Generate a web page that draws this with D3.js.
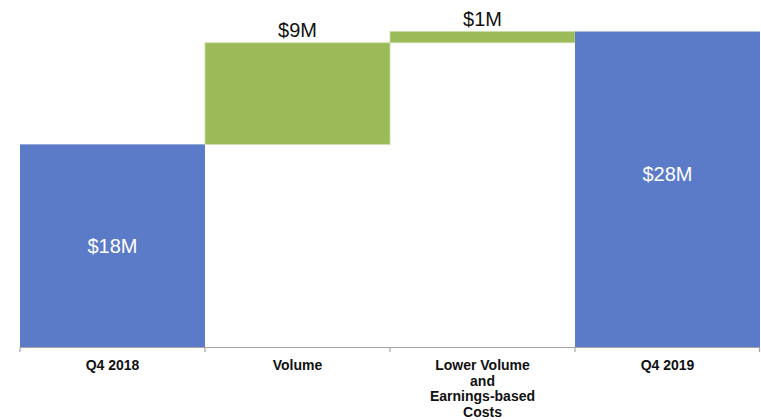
<!DOCTYPE html>
<html>
<head>
<meta charset="utf-8">
<script src="https://cdn.jsdelivr.net/npm/d3@7"></script>
<style>
  html, body { margin: 0; padding: 0; background: #fff; }
  svg { display: block; font-family: "Liberation Sans", Arial, sans-serif; }
</style>
</head>
<body>
<svg id="chart" width="761" height="420"></svg>
<script>
// Waterfall: Q4 2018 -> Q4 2019 bridge (USD millions)
const categories = ["Q4 2018", "Volume", "Lower Volume\nand\nEarnings-based\nCosts", "Q4 2019"];
const kinds      = ["total", "delta", "delta", "total"];
const values     = [18, 9, 1, 28];
const valueLabels = ["$18M", "$9M", "$1M", "$28M"];
// value level (in $M) where the label inside a total bar sits
const insideLabelAt = [9.0, 15.4];

const width = 761, height = 420;
const margin = { left: 20, right: 1, top: 31.5, bottom: 72.5 };

const svg = d3.select("#chart");

// Build start/end of each step
let running = 0;
const steps = categories.map((c, i) => {
  let y0, y1;
  if (kinds[i] === "total") { y0 = 0; y1 = values[i]; running = values[i]; }
  else { y0 = running; y1 = running + values[i]; running = y1; }
  return { cat: c, kind: kinds[i], y0, y1, label: valueLabels[i] };
});

const x = d3.scaleBand()
  .domain(categories)
  .range([margin.left, width - margin.right])
  .padding(0);

const y = d3.scaleLinear()
  .domain([0, d3.max(steps, d => d.y1)])
  .range([height - margin.bottom, margin.top]);

const blue = "#5b7bc8", green = "#9bbb59";

// Bars
svg.append("g").selectAll("rect")
  .data(steps)
  .join("rect")
  .attr("x", d => x(d.cat))
  .attr("width", x.bandwidth())
  .attr("y", d => y(d.y1))
  .attr("height", d => y(d.y0) - y(d.y1))
  .attr("fill", d => d.kind === "total" ? blue : green)
  .attr("stroke", d => d.kind === "total" ? "none" : "#c9dca6")
  .attr("stroke-width", 0.8);

// Value labels: inside totals (white), above deltas (black)
let ti = 0;
svg.append("g").selectAll("text")
  .data(steps)
  .join("text")
  .attr("x", d => x(d.cat) + x.bandwidth() / 2)
  .attr("y", d => {
    if (d.kind === "total") { return y(insideLabelAt[ti++]) + 7; }
    return y(d.y1) - 6;
  })
  .attr("text-anchor", "middle")
  .attr("font-size", 20)
  .attr("fill", d => d.kind === "total" ? "#ffffff" : "#111111")
  .text(d => d.label);

// Category axis
const baseY = y(0);
const axis = svg.append("g");
axis.append("line")
  .attr("x1", x.range()[0]).attr("x2", x.range()[1])
  .attr("y1", baseY).attr("y2", baseY)
  .attr("stroke", "#a6a6a6").attr("stroke-width", 1.2);

const edges = categories.map(c => x(c)).concat([x.range()[1] - 0.5]);
axis.selectAll("line.tick")
  .data(edges)
  .join("line")
  .attr("class", "tick")
  .attr("x1", d => d).attr("x2", d => d)
  .attr("y1", baseY).attr("y2", baseY + 4.5)
  .attr("stroke", "#a6a6a6").attr("stroke-width", 1.2);

const catText = axis.selectAll("text")
  .data(categories)
  .join("text")
  .attr("text-anchor", "middle")
  .attr("font-size", 14)
  .attr("font-weight", "bold")
  .attr("fill", "#111");

catText.each(function(d) {
  const t = d3.select(this);
  d.split("\n").forEach((line, k) => {
    t.append("tspan")
      .attr("x", x(d) + x.bandwidth() / 2)
      .attr("y", baseY + 22.5 + k * 15.7)
      .text(line);
  });
});
</script>
</body>
</html>
